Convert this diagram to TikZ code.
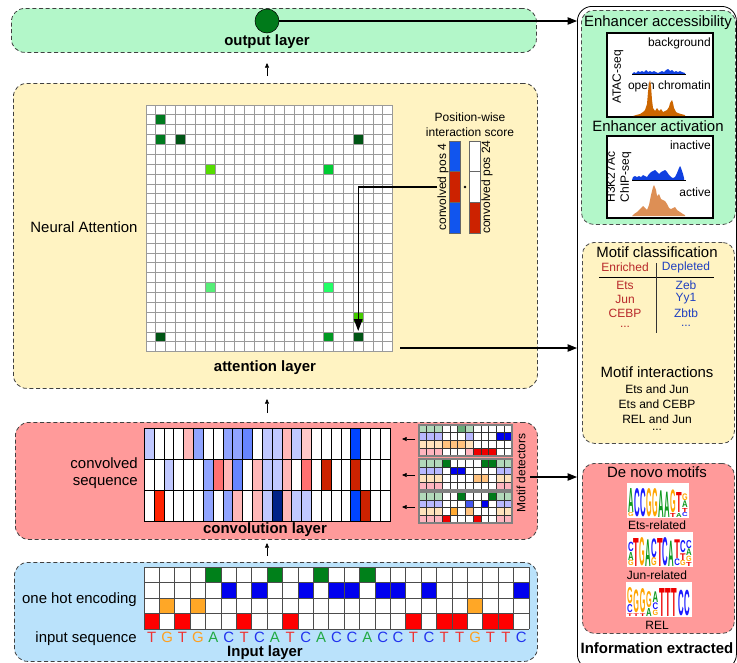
\documentclass[tikz,border=0pt]{standalone}
\usepackage{fontspec}
\setmainfont{Liberation Sans}
\usepackage{graphicx}
\usetikzlibrary{arrows.meta,positioning}

% layer backgrounds
\definecolor{outgreen}{HTML}{B3F7C9}
\definecolor{attyellow}{HTML}{FFF3C2}
\definecolor{convred}{HTML}{FF9A9A}
\definecolor{inblue}{HTML}{BAE2FB}
\definecolor{nodegreen}{HTML}{007A1A}
\definecolor{gridgray}{HTML}{9A9A9A}
% attention scores
\definecolor{atA}{HTML}{007A1F}
\definecolor{atB}{HTML}{005515}
\definecolor{atC}{HTML}{55DD00}
\definecolor{atD}{HTML}{00CC33}
\definecolor{atE}{HTML}{55EE77}
\definecolor{atF}{HTML}{22FF66}
\definecolor{atG}{HTML}{44CC00}
\definecolor{atH}{HTML}{009922}
% convolved sequence
\definecolor{cvw}{HTML}{FFFFFF}
\definecolor{cvlb}{HTML}{C0C8FF}
\definecolor{cvmb}{HTML}{90A4FF}
\definecolor{cvdb}{HTML}{6685FF}
\definecolor{cvsb}{HTML}{0044FF}
\definecolor{cvnv}{HTML}{002288}
\definecolor{cvpk}{HTML}{FFB8B8}
\definecolor{cvlp}{HTML}{FFC8C8}
\definecolor{cvsa}{HTML}{FF7070}
\definecolor{cvdr}{HTML}{CC2200}
\definecolor{cvbr}{HTML}{FF2200}
% motif detectors
\definecolor{mdw}{HTML}{FFFFFF}
\definecolor{mdlg}{HTML}{B2D8BA}
\definecolor{mdmg}{HTML}{66AA77}
\definecolor{mddg}{HTML}{007A1A}
\definecolor{mdlb}{HTML}{B8B8FF}
\definecolor{mdbl}{HTML}{0000EE}
\definecolor{mdmb}{HTML}{4455EE}
\definecolor{mdlo}{HTML}{FFE2BC}
\definecolor{mdmo}{HTML}{FFC27E}
\definecolor{mdor}{HTML}{FFAA33}
\definecolor{mdlr}{HTML}{FFB5BF}
\definecolor{mdrd}{HTML}{EE0000}
% one hot / sequence / logos
\definecolor{hotA}{HTML}{00801A}
\definecolor{hotC}{HTML}{0000EE}
\definecolor{hotG}{HTML}{FFA726}
\definecolor{hotT}{HTML}{FF0000}
\definecolor{seqA}{HTML}{22AA44}
\definecolor{seqC}{HTML}{2233EE}
\definecolor{seqG}{HTML}{FFA020}
\definecolor{seqT}{HTML}{EE3333}
\definecolor{ntA}{HTML}{109A20}
\definecolor{ntC}{HTML}{1A1AFF}
\definecolor{ntG}{HTML}{FFA500}
\definecolor{ntT}{HTML}{EE0000}
% right panel
\definecolor{enr}{HTML}{B8282A}
\definecolor{dep}{HTML}{2040C0}
\definecolor{trkblue}{HTML}{1040E0}
\definecolor{trkorange}{HTML}{CC6600}
\definecolor{trkpeach}{HTML}{DD8F55}
\definecolor{pwblue}{HTML}{1155EE}
\definecolor{pwred}{HTML}{CC2200}

\newcommand{\lblfont}{\fontsize{11.2}{12.5}\selectfont}
\newcommand{\smlfont}{\fontsize{9}{10.5}\selectfont}

% one stacked column of a sequence logo: x, bottom y, letter/height(pt) list
\newcounter{logoidx}
\newcommand{\logocol}[3]{%
  \xdef\logoy{#2}%
  \foreach \nuc/\nh in {#3} {%
    \stepcounter{logoidx}%
    \node[logoletter] (lt\arabic{logoidx}) at (#1,\logoy)
      {\color{nt\nuc}\resizebox{4.2pt}{\nh pt}{\bfseries\nuc}};
    \pgfmathsetmacro\newy{\logoy-\nh/0.75-0.6}%
    \xdef\logoy{\newy}%
  }%
}

% 4 x 12 motif detector: top y, rows A C G T
\newcommand{\motifgrid}[5]{%
  \foreach \rowlist [count=\ri from 0] in {{#2},{#3},{#4},{#5}} {%
    \foreach \cc [count=\ci from 0] in \rowlist {%
      \draw[mdcell, fill=md\cc] (419+\ci*7.75,#1+\ri*7.75) rectangle ++(7.75,7.75);
    }%
  }%
  \draw[mdframe] (419,#1) rectangle ++(93,31);
}

\begin{document}
\begin{tikzpicture}[
    x=0.75pt, y=-0.75pt,
    layerbox/.style={draw=black!75, dash pattern=on 3pt off 2pt, line width=0.6pt,
        rounded corners=10pt, anchor=north west, inner sep=0pt},
    sidebox/.style={draw=black!70, dash pattern=on 3pt off 2pt, line width=0.6pt,
        rounded corners=9pt, anchor=north west, inner sep=0pt},
    panelbox/.style={draw=black, line width=0.6pt, rounded corners=11pt,
        anchor=north west, inner sep=0pt},
    lbl/.style={font=\lblfont, inner sep=0pt},
    blbl/.style={font=\lblfont\bfseries, inner sep=0pt},
    slbl/.style={font=\smlfont, inner sep=0pt},
    outnode/.style={circle, draw=black, fill=nodegreen, minimum size=18pt, inner sep=0pt},
    bigarrow/.style={line width=0.8pt, -{Triangle[length=7pt,width=5.5pt]}},
    attarrow/.style={line width=0.8pt, -{Triangle[length=9pt,width=6.5pt]}},
    uparrow/.style={line width=0.5pt, -{Triangle[length=3.5pt,width=3pt]}},
    gridline/.style={gridgray, line width=0.7pt},
    cvcell/.style={draw=black, line width=0.7pt},
    mdcell/.style={draw=black!80, line width=0.4pt},
    mdframe/.style={draw=black!50, line width=0.8pt},
    hotcell/.style={draw=black!70, line width=0.6pt},
    barcell/.style={draw=black!60, line width=0.5pt},
    trackbox/.style={draw=black, line width=0.9pt},
    logoletter/.style={anchor=south west, inner sep=0pt, outer sep=0pt},
]
\useasboundingbox (0,0) rectangle (737,662);

% information extracted panel
\node[panelbox, minimum width=119.25pt, minimum height=497pt] (panel) at (577,6) {};
\node[sidebox, fill=outgreen, minimum width=115.5pt, minimum height=160.5pt] (accbox) at (581,10) {};
\node[sidebox, fill=attyellow, minimum width=114pt, minimum height=150.75pt] (motbox) at (582,242) {};
\node[sidebox, fill=convred, minimum width=114pt, minimum height=127.5pt] (novobox) at (582,463) {};
\node[blbl] (infolbl) at (657,648) {Information extracted};

% output layer
\node[layerbox, fill=outgreen, minimum width=393.75pt, minimum height=33pt] (outbox) at (11,8) {};
\node[outnode] (out) at (267,21) {};
\node[blbl] (outlbl) at (267,42) {output layer};
\draw[bigarrow] (out) -- (out -| panel.west);

% attention layer
\node[layerbox, fill=attyellow, minimum width=393pt, minimum height=228.75pt] (attbox) at (13,83) {};
\node[lbl] (attname) at (84,227) {Neural Attention};
\node[blbl] (attlbl) at (265,368) {attention layer};
\fill[white] (146,105) rectangle (392.75,351.75);
\foreach \ri/\ci/\col in {1/1/atA, 3/1/atA, 3/3/atB, 3/21/atB, 6/6/atC, 6/18/atD,
    18/6/atE, 18/18/atF, 21/21/atG, 23/1/atB, 23/18/atH, 23/21/atB}
  \fill[fill=\col] (146+\ci*9.87,105+\ri*9.87) rectangle ++(9.87,9.87);
\foreach \k in {0,...,25} {
  \draw[gridline] (146+\k*9.87,105) -- (146+\k*9.87,351.75);
  \draw[gridline] (146,105+\k*9.87) -- (392.75,105+\k*9.87);
}

% position-wise interaction score
\node[slbl, align=center] (pwlbl) at (470,125) {Position-wise\\[1pt]interaction score};
\draw[barcell, fill=pwblue] (449,141) rectangle (460,171.7);
\draw[barcell, fill=pwred] (449,171.7) rectangle (460,202.3);
\draw[barcell, fill=pwblue] (449,202.3) rectangle (460,233);
\draw[barcell, fill=white] (469,141) rectangle (480,171.7);
\draw[barcell, fill=white] (469,171.7) rectangle (480,202.3);
\draw[barcell, fill=pwred] (469,202.3) rectangle (480,233);
\fill (465,187) circle (1.3);
\node[slbl, rotate=90] (pos4) at (443,187) {convolved pos 4};
\node[slbl, rotate=90] (pos24) at (487,187) {convolved pos 24};
\coordinate (pwstart) at (437,187);
\coordinate (pwcell) at (358.2,331);
\draw[attarrow] (pwstart) -| (pwcell);
\coordinate (attout) at (400,348);
\draw[bigarrow] (attout) -- (attout -| panel.west);

% convolution layer
\node[layerbox, fill=convred, minimum width=391.5pt, minimum height=87.75pt] (convbox) at (15,422) {};
\node[lbl, align=right, anchor=east] (convlbl) at (138,473) {convolved\\sequence};
\node[blbl, anchor=base] (convname) at (265,533) {convolution layer};
\foreach \rowlist [count=\ri from 0] in {
    {lb,w,w,w,pk,mb,w,w,mb,mb,db,w,lb,lb,pk,lb,lp,w,w,w,w,sb,w,w,w},
    {w,w,lb,w,w,w,mb,sa,pk,db,w,pk,lb,lb,pk,w,sa,w,dr,w,w,dr,w,w,w},
    {w,br,w,w,w,w,mb,w,mb,pk,w,pk,lb,nv,pk,lb,lb,w,w,w,w,sb,dr,w,w}} {
  \foreach \cc [count=\ci from 0] in \rowlist {
    \draw[cvcell, fill=cv\cc] (144.3+\ci*9.84,428+\ri*31) rectangle ++(9.84,31);
  }
}

% motif detectors
\motifgrid{425}{lg,lg,lg,w,w,mg,lg,w,w,w,w,w}{lb,lb,lb,w,w,w,lb,w,w,w,bl,bl}%
  {lo,lo,lo,mo,mo,mo,lo,w,w,w,w,w}{lr,lr,lr,w,w,w,lr,rd,rd,rd,w,w}
\motifgrid{459}{lg,lg,lg,dg,w,w,w,w,dg,dg,lg,lg}{lb,lb,lb,w,bl,bl,w,w,w,w,lb,lb}%
  {lo,lo,lo,w,w,w,w,mo,mo,w,lo,lo}{lr,lr,lr,w,w,w,w,w,w,w,lr,lr}
\motifgrid{492}{lg,lg,lg,w,w,dg,w,w,w,dg,lg,lg}{lb,lb,lb,w,w,w,mb,w,bl,w,lb,lb}%
  {lo,lo,lo,w,or,w,mo,w,w,w,lo,lo}{lr,lr,lr,rd,w,w,w,rd,w,w,lr,lr}
\node[slbl, rotate=90] (mdlbl) at (521,473) {Motif detectors};
\coordinate (md1s) at (415,439); \coordinate (md1e) at (402,439);
\coordinate (md2s) at (415,475); \coordinate (md2e) at (402,475);
\coordinate (md3s) at (415,507); \coordinate (md3e) at (402,507);
\draw[uparrow] (md1s) -- (md1e);
\draw[uparrow] (md2s) -- (md2e);
\draw[uparrow] (md3s) -- (md3e);
\coordinate (convout) at (530,477);
\draw[bigarrow] (convout) -- (convout -| panel.west);

% input layer
\node[layerbox, fill=inblue, minimum width=392.25pt, minimum height=74.25pt] (inbox) at (14,562) {};
\foreach \b/\ri [count=\ci from 0] in {T/3,G/2,T/3,G/2,A/0,C/1,T/3,C/1,A/0,T/3,C/1,A/0,C/1,
    C/1,A/0,C/1,C/1,T/3,C/1,T/3,T/3,G/2,T/3,T/3,C/1} {
  \fill[white] (144+\ci*15.4,567) rectangle ++(15.4,62);
  \fill[fill=hot\b] (144+\ci*15.4,567+\ri*15.5) rectangle ++(15.4,15.5);
  \node[lbl, anchor=base, text=seq\b] (s\ci) at (144+\ci*15.4+7.7,642) {\b};
}
\foreach \k in {0,...,25}
  \draw[hotcell] (144+\k*15.4,567) -- (144+\k*15.4,629);
\foreach \k in {0,...,4}
  \draw[hotcell] (144,567+\k*15.5) -- (529,567+\k*15.5);
\node[lbl, anchor=base east] (hotlbl) at (137,603) {one hot encoding};
\node[lbl, anchor=base east] (seqlbl) at (137,642) {input sequence};
\node[blbl, anchor=base] (inlbl) at (265,656) {Input layer};

% arrows between layers
\coordinate (up1s) at (267,76);  \coordinate (up1e) at (267,63);
\coordinate (up2s) at (267,413); \coordinate (up2e) at (267,399);
\coordinate (up3s) at (267,556); \coordinate (up3e) at (267,543);
\draw[uparrow] (up1s) -- (up1e);
\draw[uparrow] (up2s) -- (up2e);
\draw[uparrow] (up3s) -- (up3e);

% enhancer accessibility
\node[lbl] (acclbl) at (658,23) {Enhancer accessibility};
\draw[trackbox, fill=white] (607,33) rectangle (713,117);
\node[slbl, anchor=east] (bglbl) at (711,43) {background};
\node[slbl, anchor=east] (oclbl) at (711,86) {open chromatin};
\node[slbl, rotate=90] (ataclbl) at (618,77) {ATAC-seq};
\fill[trkblue] plot coordinates {(632,74) (634,72) (636,73) (638,71) (640,72) (642,71)
  (644,72) (646,70) (648,72) (650,71) (652,72) (654,71) (656,72) (658,73) (660,72)
  (662,71) (664,72) (666,70) (668,69) (670,71) (672,70) (674,72) (676,71) (678,72)
  (680,71) (682,72) (685,73) (685,74)};
\draw[line width=0.6pt] (632,74) -- (686,74);
\fill[trkorange] plot coordinates {(633,116) (636,115) (640,114) (643,112) (645,110)
  (647,104) (648,92) (649,84) (650,80) (651,86) (652,100) (653,108) (655,111) (657,108)
  (659,111) (661,109) (663,112) (665,111) (667,110) (669,107) (670,103) (672,100)
  (673,103) (674,108) (676,112) (678,113) (681,114) (685,115) (685,116)};

% enhancer activation
\node[lbl] (actlbl) at (658,126) {Enhancer activation};
\draw[trackbox, fill=white] (607,136) rectangle (713,218);
\node[slbl, anchor=east] (inactlbl) at (711,145) {inactive};
\node[slbl, anchor=east] (activelbl) at (711,192) {active};
\node[slbl, rotate=90, align=center] (chiplbl) at (619,177) {H3K27Ac\\ChIP-seq};
\fill[trkblue] plot coordinates {(632,180) (633,177) (635,176) (637,177) (639,176)
  (641,177) (643,175) (645,176) (647,177) (649,174) (651,172) (653,171) (655,170)
  (657,172) (659,174) (661,172) (663,171) (665,170) (667,172) (669,175) (671,177)
  (673,178) (675,177) (677,173) (679,168) (680,166) (681,168) (683,174) (684,178)
  (684,180)};
\draw[line width=0.6pt] (632,180) -- (686,180);
\fill[trkpeach] plot coordinates {(632,216) (634,214) (637,212) (640,209) (643,206)
  (645,208) (647,210) (649,205) (651,195) (653,187) (654,185) (656,190) (657,196)
  (659,194) (661,199) (663,200) (665,201) (667,204) (669,208) (671,209) (673,208)
  (675,207) (677,210) (680,212) (683,214) (685,215) (685,216)};

% motif classification
\node[lbl] (classlbl) at (657,252) {Motif classification};
\node[slbl, text=enr] (enrlbl) at (625,267) {Enriched};
\node[slbl, text=dep] (deplbl) at (686,267) {Depleted};
\draw[line width=0.6pt] (599,277) -- (714,277);
\draw[line width=0.6pt, black!80] (656,263) -- (656,333);
\node[slbl, text=enr] (e1) at (625,285) {Ets};
\node[slbl, text=enr] (e2) at (625,299) {Jun};
\node[slbl, text=enr] (e3) at (625,313) {CEBP};
\node[slbl, text=enr] (e4) at (625,327) {...};
\node[slbl, text=dep] (d1) at (686,285) {Zeb};
\node[slbl, text=dep] (d2) at (686,299) {Yy1};
\node[slbl, text=dep] (d3) at (686,313) {Zbtb};
\node[slbl, text=dep] (d4) at (686,326) {...};
\node[lbl] (interlbl) at (657,372) {Motif interactions};
\node[slbl] (i1) at (657,389) {Ets and Jun};
\node[slbl] (i2) at (657,404) {Ets and CEBP};
\node[slbl] (i3) at (657,419) {REL and Jun};
\node[slbl] (i4) at (657,430) {...};

% de novo motifs
\node[lbl] (novolbl) at (657,472) {De novo motifs};
\fill[white] (627,483) rectangle (689,518);
\fill[white] (627,532) rectangle (693,567);
\fill[white] (626,582) rectangle (692,617);
\logocol{628}{517}{G/3,A/18}
\logocol{634}{517}{C/21}
\logocol{640}{517}{C/21}
\logocol{646}{517}{G/21}
\logocol{652}{517}{G/21}
\logocol{658}{517}{A/20}
\logocol{664}{517}{A/19}
\logocol{670}{517}{T/3,G/17}
\logocol{676}{517}{A/3,T/15}
\logocol{682}{517}{C/3,T/3,A/5,G/5}
\node[slbl] (etslbl) at (657,525) {Ets-related};
\logocol{628}{566}{G/4,A/6,C/7}
\logocol{633.8}{566}{T/21}
\logocol{639.6}{566}{G/21}
\logocol{645.4}{566}{A/20}
\logocol{651.2}{566}{G/6,C/14}
\logocol{657}{566}{T/21}
\logocol{662.8}{566}{C/21}
\logocol{668.6}{566}{A/19}
\logocol{674.4}{566}{C/5,T/14}
\logocol{680.2}{566}{G/4,T/5,C/9}
\logocol{686}{566}{T/3,G/4,A/5,C/6}
\node[slbl] (junlbl) at (657,575) {Jun-related};
\logocol{627}{616}{T/2,C/6,G/12}
\logocol{633.4}{616}{T/2,G/17}
\logocol{639.8}{616}{T/2,G/18}
\logocol{646.2}{616}{A/6,G/12}
\logocol{652.6}{616}{G/4,C/5,A/8}
\logocol{659}{616}{T/21}
\logocol{665.4}{616}{T/21}
\logocol{671.8}{616}{T/21}
\logocol{678.2}{616}{C/19}
\logocol{684.6}{616}{C/19}
\node[slbl] (rellbl) at (657,625) {REL};

\end{tikzpicture}
\end{document}
